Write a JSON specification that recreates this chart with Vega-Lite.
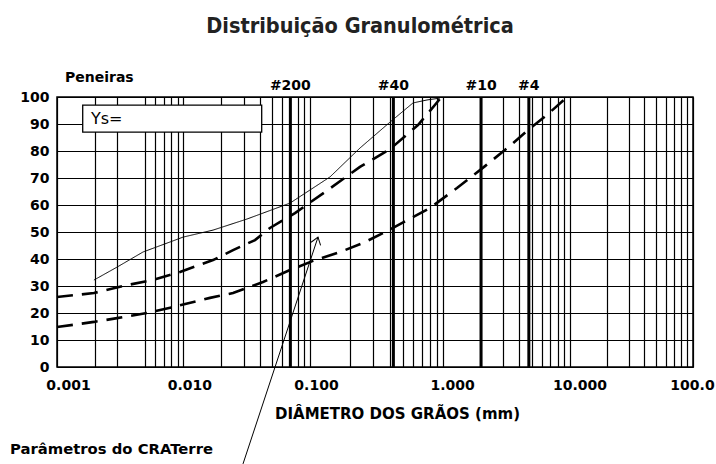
{
  "$schema": "https://vega.github.io/schema/vega-lite/v6.json",
  "width": 636,
  "height": 270,
  "autosize": "none",
  "padding": {"left": 57, "top": 97, "right": 23, "bottom": 97},
  "background": "white",
  "title": {
    "text": "Distribuição Granulométrica",
    "font": "Liberation Sans Narrow, DejaVu Sans Condensed, Roboto, sans-serif",
    "fontSize": 21.5,
    "fontWeight": "bold",
    "color": "#222222",
    "anchor": "middle",
    "frame": "group",
    "dx": -15,
    "offset": 33
  },
  "config": {
    "view": {"stroke": "black", "strokeWidth": 1.5},
    "font": "DejaVu Sans"
  },
  "datasets": {
    "curvas": [
      {"serie": "Amostra", "d": 0.00196, "p": 32.2},
      {"serie": "Amostra", "d": 0.00299, "p": 37.0},
      {"serie": "Amostra", "d": 0.0048, "p": 42.6},
      {"serie": "Amostra", "d": 0.00785, "p": 46.3},
      {"serie": "Amostra", "d": 0.00995, "p": 48.1},
      {"serie": "Amostra", "d": 0.01716, "p": 50.7},
      {"serie": "Amostra", "d": 0.0318, "p": 54.8},
      {"serie": "Amostra", "d": 0.0695, "p": 60.7},
      {"serie": "Amostra", "d": 0.1415, "p": 70.4},
      {"serie": "Amostra", "d": 0.238, "p": 81.1},
      {"serie": "Amostra", "d": 0.4008, "p": 90.7},
      {"serie": "Amostra", "d": 0.5973, "p": 97.8},
      {"serie": "Amostra", "d": 0.7615, "p": 98.9},
      {"serie": "Amostra", "d": 0.954, "p": 99.6},
      {"serie": "Limite superior", "d": 0.001, "p": 25.9},
      {"serie": "Limite superior", "d": 0.00196, "p": 27.4},
      {"serie": "Limite superior", "d": 0.00365, "p": 30.4},
      {"serie": "Limite superior", "d": 0.00575, "p": 32.2},
      {"serie": "Limite superior", "d": 0.00942, "p": 35.2},
      {"serie": "Limite superior", "d": 0.01716, "p": 39.6},
      {"serie": "Limite superior", "d": 0.0247, "p": 43.3},
      {"serie": "Limite superior", "d": 0.0368, "p": 47.0},
      {"serie": "Limite superior", "d": 0.0483, "p": 51.5},
      {"serie": "Limite superior", "d": 0.0761, "p": 57.0},
      {"serie": "Limite superior", "d": 0.1297, "p": 64.8},
      {"serie": "Limite superior", "d": 0.238, "p": 74.1},
      {"serie": "Limite superior", "d": 0.4008, "p": 80.7},
      {"serie": "Limite superior", "d": 0.6515, "p": 89.6},
      {"serie": "Limite superior", "d": 0.954, "p": 99.3},
      {"serie": "Limite inferior", "d": 0.001, "p": 14.8},
      {"serie": "Limite inferior", "d": 0.00196, "p": 16.7},
      {"serie": "Limite inferior", "d": 0.00299, "p": 18.1},
      {"serie": "Limite inferior", "d": 0.00516, "p": 20.0},
      {"serie": "Limite inferior", "d": 0.00829, "p": 22.2},
      {"serie": "Limite inferior", "d": 0.01624, "p": 25.6},
      {"serie": "Limite inferior", "d": 0.0247, "p": 27.4},
      {"serie": "Limite inferior", "d": 0.04256, "p": 31.5},
      {"serie": "Limite inferior", "d": 0.0695, "p": 35.9},
      {"serie": "Limite inferior", "d": 0.1053, "p": 39.3},
      {"serie": "Limite inferior", "d": 0.1683, "p": 42.6},
      {"serie": "Limite inferior", "d": 0.2508, "p": 45.9},
      {"serie": "Limite inferior", "d": 0.4222, "p": 51.5},
      {"serie": "Limite inferior", "d": 0.8024, "p": 58.9},
      {"serie": "Limite inferior", "d": 1.295, "p": 66.3},
      {"serie": "Limite inferior", "d": 2.149, "p": 74.4},
      {"serie": "Limite inferior", "d": 3.379, "p": 81.9},
      {"serie": "Limite inferior", "d": 4.679, "p": 87.8},
      {"serie": "Limite inferior", "d": 6.719, "p": 93.7},
      {"serie": "Limite inferior", "d": 9.135, "p": 99.3}
    ],
    "peneiras": [
      {"peneira": "#200", "abertura": 0.07},
      {"peneira": "#40", "abertura": 0.425},
      {"peneira": "#10", "abertura": 2.0},
      {"peneira": "#4", "abertura": 4.75}
    ]
  },
  "layer": [
    {
      "data": {"name": "curvas"},
      "mark": {"type": "line", "color": "black"},
      "encoding": {
        "x": {
          "field": "d",
          "type": "quantitative",
          "scale": {"type": "log", "domain": [0.001, 0.01, 0.1, 1, 10, 100], "range": [0, 126.3, 253, 385.7, 513, 636], "nice": false},
          "axis": {
            "values": [0.001, 0.002, 0.003, 0.005, 0.006, 0.007, 0.008, 0.009, 0.01, 0.02, 0.03, 0.04, 0.05, 0.06, 0.07, 0.08, 0.09, 0.1, 0.2, 0.3, 0.4, 0.5, 0.6, 0.7, 0.8, 0.9, 1, 2, 3, 4, 5, 6, 7, 8, 9, 10, 20, 30, 40, 50, 60, 70, 80, 90, 100],
            "tickCount": 60,
            "grid": true, "gridColor": "black", "gridOpacity": 1, "gridWidth": 1.2,
            "ticks": false, "domain": false,
            "labelExpr": "indexof([0.001, 0.01, 0.1, 1, 10, 100], datum.value) >= 0 ? (datum.value == 100 ? '100.0' : format(datum.value, '.3f')) : ''",
            "labelFont": "DejaVu Sans", "labelFontWeight": "bold", "labelFontSize": 14, "labelColor": "black",
            "labelPadding": 11, "labelOverlap": false, "labelFlush": false, "labelBound": false,
            "labelOffset": {"condition": [{"test": "datum.value == 100", "value": -1}, {"test": "datum.value >= 1", "value": 9.5}, {"test": "datum.value < 0.002", "value": 11}], "value": 6},
            "title": "DIÂMETRO DOS GRÃOS (mm)",
            "titleFont": "DejaVu Sans", "titleFontSize": 15, "titleFontWeight": "bold", "titleColor": "black",
            "titleX": 340, "titleY": 46, "titleAlign": "center", "titleBaseline": "middle"
          }
        },
        "y": {
          "field": "p",
          "type": "quantitative",
          "scale": {"domain": [0, 100], "nice": false, "zero": false},
          "axis": {
            "values": [0, 10, 20, 30, 40, 50, 60, 70, 80, 90, 100], "tickCount": 20,
            "grid": true, "gridColor": "black", "gridOpacity": 1, "gridWidth": 1.2,
            "ticks": false, "domain": false,
            "labelFont": "DejaVu Sans", "labelFontWeight": "bold", "labelFontSize": 14, "labelColor": "black",
            "labelPadding": 8, "labelOverlap": false, "title": null
          }
        },
        "strokeDash": {
          "field": "serie", "type": "nominal",
          "scale": {"domain": ["Amostra", "Limite superior", "Limite inferior"], "range": [[1, 0], [16, 9], [16, 9]]},
          "legend": null
        },
        "strokeWidth": {
          "field": "serie", "type": "nominal",
          "scale": {"type": "ordinal", "domain": ["Amostra", "Limite superior", "Limite inferior"], "range": [1, 2.6, 2.6]},
          "legend": null
        }
      }
    },
    {
      "data": {"name": "peneiras"},
      "mark": {"type": "rule", "color": "black", "strokeWidth": 3},
      "encoding": {
        "x": {
          "field": "abertura", "type": "quantitative",
          "axis": {
            "values": [0.001, 0.002, 0.003, 0.005, 0.006, 0.007, 0.008, 0.009, 0.01, 0.02, 0.03, 0.04, 0.05, 0.06, 0.07, 0.08, 0.09, 0.1, 0.2, 0.3, 0.4, 0.5, 0.6, 0.7, 0.8, 0.9, 1, 2, 3, 4, 5, 6, 7, 8, 9, 10, 20, 30, 40, 50, 60, 70, 80, 90, 100],
            "tickCount": 60,
            "grid": true, "gridColor": "black", "gridOpacity": 1, "gridWidth": 1.2,
            "ticks": false, "domain": false,
            "labelExpr": "indexof([0.001, 0.01, 0.1, 1, 10, 100], datum.value) >= 0 ? (datum.value == 100 ? '100.0' : format(datum.value, '.3f')) : ''",
            "labelFont": "DejaVu Sans", "labelFontWeight": "bold", "labelFontSize": 14, "labelColor": "black",
            "labelPadding": 11, "labelOverlap": false, "labelFlush": false, "labelBound": false,
            "labelOffset": {"condition": [{"test": "datum.value == 100", "value": -1}, {"test": "datum.value >= 1", "value": 9.5}, {"test": "datum.value < 0.002", "value": 11}], "value": 6},
            "title": "DIÂMETRO DOS GRÃOS (mm)",
            "titleFont": "DejaVu Sans", "titleFontSize": 15, "titleFontWeight": "bold", "titleColor": "black",
            "titleX": 340, "titleY": 46, "titleAlign": "center", "titleBaseline": "middle"
          }
        }
      }
    },
    {
      "data": {"name": "peneiras"},
      "mark": {"type": "text", "font": "DejaVu Sans", "fontWeight": "bold", "fontSize": 14, "color": "black", "align": "center", "baseline": "middle"},
      "encoding": {
        "x": {
          "field": "abertura", "type": "quantitative",
          "axis": {
            "values": [0.001, 0.002, 0.003, 0.005, 0.006, 0.007, 0.008, 0.009, 0.01, 0.02, 0.03, 0.04, 0.05, 0.06, 0.07, 0.08, 0.09, 0.1, 0.2, 0.3, 0.4, 0.5, 0.6, 0.7, 0.8, 0.9, 1, 2, 3, 4, 5, 6, 7, 8, 9, 10, 20, 30, 40, 50, 60, 70, 80, 90, 100],
            "tickCount": 60,
            "grid": true, "gridColor": "black", "gridOpacity": 1, "gridWidth": 1.2,
            "ticks": false, "domain": false,
            "labelExpr": "indexof([0.001, 0.01, 0.1, 1, 10, 100], datum.value) >= 0 ? (datum.value == 100 ? '100.0' : format(datum.value, '.3f')) : ''",
            "labelFont": "DejaVu Sans", "labelFontWeight": "bold", "labelFontSize": 14, "labelColor": "black",
            "labelPadding": 11, "labelOverlap": false, "labelFlush": false, "labelBound": false,
            "labelOffset": {"condition": [{"test": "datum.value == 100", "value": -1}, {"test": "datum.value >= 1", "value": 9.5}, {"test": "datum.value < 0.002", "value": 11}], "value": 6},
            "title": "DIÂMETRO DOS GRÃOS (mm)",
            "titleFont": "DejaVu Sans", "titleFontSize": 15, "titleFontWeight": "bold", "titleColor": "black",
            "titleX": 340, "titleY": 46, "titleAlign": "center", "titleBaseline": "middle"
          }
        },
        "y": {
          "datum": 103.9, "type": "quantitative",
          "axis": {
            "values": [0, 10, 20, 30, 40, 50, 60, 70, 80, 90, 100], "tickCount": 20,
            "grid": true, "gridColor": "black", "gridOpacity": 1, "gridWidth": 1.2,
            "ticks": false, "domain": false,
            "labelFont": "DejaVu Sans", "labelFontWeight": "bold", "labelFontSize": 14, "labelColor": "black",
            "labelPadding": 8, "labelOverlap": false, "title": null
          }
        },
        "text": {"field": "peneira"}
      }
    },
    {
      "data": {"values": [{}]},
      "mark": {"type": "rect", "fill": "white", "stroke": "black", "strokeWidth": 1.3},
      "encoding": {
        "x": {
          "datum": 0.001598, "type": "quantitative",
          "axis": {
            "values": [0.001, 0.002, 0.003, 0.005, 0.006, 0.007, 0.008, 0.009, 0.01, 0.02, 0.03, 0.04, 0.05, 0.06, 0.07, 0.08, 0.09, 0.1, 0.2, 0.3, 0.4, 0.5, 0.6, 0.7, 0.8, 0.9, 1, 2, 3, 4, 5, 6, 7, 8, 9, 10, 20, 30, 40, 50, 60, 70, 80, 90, 100],
            "tickCount": 60,
            "grid": true, "gridColor": "black", "gridOpacity": 1, "gridWidth": 1.2,
            "ticks": false, "domain": false,
            "labelExpr": "indexof([0.001, 0.01, 0.1, 1, 10, 100], datum.value) >= 0 ? (datum.value == 100 ? '100.0' : format(datum.value, '.3f')) : ''",
            "labelFont": "DejaVu Sans", "labelFontWeight": "bold", "labelFontSize": 14, "labelColor": "black",
            "labelPadding": 11, "labelOverlap": false, "labelFlush": false, "labelBound": false,
            "labelOffset": {"condition": [{"test": "datum.value == 100", "value": -1}, {"test": "datum.value >= 1", "value": 9.5}, {"test": "datum.value < 0.002", "value": 11}], "value": 6},
            "title": "DIÂMETRO DOS GRÃOS (mm)",
            "titleFont": "DejaVu Sans", "titleFontSize": 15, "titleFontWeight": "bold", "titleColor": "black",
            "titleX": 340, "titleY": 46, "titleAlign": "center", "titleBaseline": "middle"
          }
        },
        "x2": {"datum": 0.04157},
        "y": {
          "datum": 97.0, "type": "quantitative",
          "axis": {
            "values": [0, 10, 20, 30, 40, 50, 60, 70, 80, 90, 100], "tickCount": 20,
            "grid": true, "gridColor": "black", "gridOpacity": 1, "gridWidth": 1.2,
            "ticks": false, "domain": false,
            "labelFont": "DejaVu Sans", "labelFontWeight": "bold", "labelFontSize": 14, "labelColor": "black",
            "labelPadding": 8, "labelOverlap": false, "title": null
          }
        },
        "y2": {"datum": 87.0}
      }
    },
    {
      "data": {"values": [{}]},
      "mark": {"type": "text", "text": "Ys=", "font": "DejaVu Sans", "fontSize": 16, "color": "black", "align": "left", "baseline": "middle"},
      "encoding": {
        "x": {
          "datum": 0.001859, "type": "quantitative",
          "axis": {
            "values": [0.001, 0.002, 0.003, 0.005, 0.006, 0.007, 0.008, 0.009, 0.01, 0.02, 0.03, 0.04, 0.05, 0.06, 0.07, 0.08, 0.09, 0.1, 0.2, 0.3, 0.4, 0.5, 0.6, 0.7, 0.8, 0.9, 1, 2, 3, 4, 5, 6, 7, 8, 9, 10, 20, 30, 40, 50, 60, 70, 80, 90, 100],
            "tickCount": 60,
            "grid": true, "gridColor": "black", "gridOpacity": 1, "gridWidth": 1.2,
            "ticks": false, "domain": false,
            "labelExpr": "indexof([0.001, 0.01, 0.1, 1, 10, 100], datum.value) >= 0 ? (datum.value == 100 ? '100.0' : format(datum.value, '.3f')) : ''",
            "labelFont": "DejaVu Sans", "labelFontWeight": "bold", "labelFontSize": 14, "labelColor": "black",
            "labelPadding": 11, "labelOverlap": false, "labelFlush": false, "labelBound": false,
            "labelOffset": {"condition": [{"test": "datum.value == 100", "value": -1}, {"test": "datum.value >= 1", "value": 9.5}, {"test": "datum.value < 0.002", "value": 11}], "value": 6},
            "title": "DIÂMETRO DOS GRÃOS (mm)",
            "titleFont": "DejaVu Sans", "titleFontSize": 15, "titleFontWeight": "bold", "titleColor": "black",
            "titleX": 340, "titleY": 46, "titleAlign": "center", "titleBaseline": "middle"
          }
        },
        "y": {
          "datum": 91.9, "type": "quantitative",
          "axis": {
            "values": [0, 10, 20, 30, 40, 50, 60, 70, 80, 90, 100], "tickCount": 20,
            "grid": true, "gridColor": "black", "gridOpacity": 1, "gridWidth": 1.2,
            "ticks": false, "domain": false,
            "labelFont": "DejaVu Sans", "labelFontWeight": "bold", "labelFontSize": 14, "labelColor": "black",
            "labelPadding": 8, "labelOverlap": false, "title": null
          }
        }
      }
    },
    {
      "data": {"values": [{}]},
      "mark": {"type": "text", "text": "Peneiras", "font": "DejaVu Sans", "fontWeight": "bold", "fontSize": 14, "color": "black", "align": "left", "baseline": "middle"},
      "encoding": {
        "x": {
          "datum": 0.001157, "type": "quantitative",
          "axis": {
            "values": [0.001, 0.002, 0.003, 0.005, 0.006, 0.007, 0.008, 0.009, 0.01, 0.02, 0.03, 0.04, 0.05, 0.06, 0.07, 0.08, 0.09, 0.1, 0.2, 0.3, 0.4, 0.5, 0.6, 0.7, 0.8, 0.9, 1, 2, 3, 4, 5, 6, 7, 8, 9, 10, 20, 30, 40, 50, 60, 70, 80, 90, 100],
            "tickCount": 60,
            "grid": true, "gridColor": "black", "gridOpacity": 1, "gridWidth": 1.2,
            "ticks": false, "domain": false,
            "labelExpr": "indexof([0.001, 0.01, 0.1, 1, 10, 100], datum.value) >= 0 ? (datum.value == 100 ? '100.0' : format(datum.value, '.3f')) : ''",
            "labelFont": "DejaVu Sans", "labelFontWeight": "bold", "labelFontSize": 14, "labelColor": "black",
            "labelPadding": 11, "labelOverlap": false, "labelFlush": false, "labelBound": false,
            "labelOffset": {"condition": [{"test": "datum.value == 100", "value": -1}, {"test": "datum.value >= 1", "value": 9.5}, {"test": "datum.value < 0.002", "value": 11}], "value": 6},
            "title": "DIÂMETRO DOS GRÃOS (mm)",
            "titleFont": "DejaVu Sans", "titleFontSize": 15, "titleFontWeight": "bold", "titleColor": "black",
            "titleX": 340, "titleY": 46, "titleAlign": "center", "titleBaseline": "middle"
          }
        },
        "y": {
          "datum": 107.2, "type": "quantitative",
          "axis": {
            "values": [0, 10, 20, 30, 40, 50, 60, 70, 80, 90, 100], "tickCount": 20,
            "grid": true, "gridColor": "black", "gridOpacity": 1, "gridWidth": 1.2,
            "ticks": false, "domain": false,
            "labelFont": "DejaVu Sans", "labelFontWeight": "bold", "labelFontSize": 14, "labelColor": "black",
            "labelPadding": 8, "labelOverlap": false, "title": null
          }
        }
      }
    },
    {
      "data": {"values": [{}]},
      "mark": {"type": "text", "text": "Parâmetros do CRATerre", "font": "DejaVu Sans", "fontWeight": "bold", "fontSize": 14.8, "color": "black", "align": "left", "baseline": "middle"},
      "encoding": {
        "x": {
          "datum": 0.000425, "type": "quantitative",
          "axis": {
            "values": [0.001, 0.002, 0.003, 0.005, 0.006, 0.007, 0.008, 0.009, 0.01, 0.02, 0.03, 0.04, 0.05, 0.06, 0.07, 0.08, 0.09, 0.1, 0.2, 0.3, 0.4, 0.5, 0.6, 0.7, 0.8, 0.9, 1, 2, 3, 4, 5, 6, 7, 8, 9, 10, 20, 30, 40, 50, 60, 70, 80, 90, 100],
            "tickCount": 60,
            "grid": true, "gridColor": "black", "gridOpacity": 1, "gridWidth": 1.2,
            "ticks": false, "domain": false,
            "labelExpr": "indexof([0.001, 0.01, 0.1, 1, 10, 100], datum.value) >= 0 ? (datum.value == 100 ? '100.0' : format(datum.value, '.3f')) : ''",
            "labelFont": "DejaVu Sans", "labelFontWeight": "bold", "labelFontSize": 14, "labelColor": "black",
            "labelPadding": 11, "labelOverlap": false, "labelFlush": false, "labelBound": false,
            "labelOffset": {"condition": [{"test": "datum.value == 100", "value": -1}, {"test": "datum.value >= 1", "value": 9.5}, {"test": "datum.value < 0.002", "value": 11}], "value": 6},
            "title": "DIÂMETRO DOS GRÃOS (mm)",
            "titleFont": "DejaVu Sans", "titleFontSize": 15, "titleFontWeight": "bold", "titleColor": "black",
            "titleX": 340, "titleY": 46, "titleAlign": "center", "titleBaseline": "middle"
          }
        },
        "y": {
          "datum": -30.7, "type": "quantitative",
          "axis": {
            "values": [0, 10, 20, 30, 40, 50, 60, 70, 80, 90, 100], "tickCount": 20,
            "grid": true, "gridColor": "black", "gridOpacity": 1, "gridWidth": 1.2,
            "ticks": false, "domain": false,
            "labelFont": "DejaVu Sans", "labelFontWeight": "bold", "labelFontSize": 14, "labelColor": "black",
            "labelPadding": 8, "labelOverlap": false, "title": null
          }
        }
      }
    },
    {
      "data": {"values": [{}]},
      "mark": {"type": "rule", "color": "black", "strokeWidth": 1},
      "encoding": {
        "x": {
          "datum": 0.02959, "type": "quantitative",
          "axis": {
            "values": [0.001, 0.002, 0.003, 0.005, 0.006, 0.007, 0.008, 0.009, 0.01, 0.02, 0.03, 0.04, 0.05, 0.06, 0.07, 0.08, 0.09, 0.1, 0.2, 0.3, 0.4, 0.5, 0.6, 0.7, 0.8, 0.9, 1, 2, 3, 4, 5, 6, 7, 8, 9, 10, 20, 30, 40, 50, 60, 70, 80, 90, 100],
            "tickCount": 60,
            "grid": true, "gridColor": "black", "gridOpacity": 1, "gridWidth": 1.2,
            "ticks": false, "domain": false,
            "labelExpr": "indexof([0.001, 0.01, 0.1, 1, 10, 100], datum.value) >= 0 ? (datum.value == 100 ? '100.0' : format(datum.value, '.3f')) : ''",
            "labelFont": "DejaVu Sans", "labelFontWeight": "bold", "labelFontSize": 14, "labelColor": "black",
            "labelPadding": 11, "labelOverlap": false, "labelFlush": false, "labelBound": false,
            "labelOffset": {"condition": [{"test": "datum.value == 100", "value": -1}, {"test": "datum.value >= 1", "value": 9.5}, {"test": "datum.value < 0.002", "value": 11}], "value": 6},
            "title": "DIÂMETRO DOS GRÃOS (mm)",
            "titleFont": "DejaVu Sans", "titleFontSize": 15, "titleFontWeight": "bold", "titleColor": "black",
            "titleX": 340, "titleY": 46, "titleAlign": "center", "titleBaseline": "middle"
          }
        },
        "x2": {"datum": 0.1149},
        "y": {
          "datum": -35.9, "type": "quantitative",
          "axis": {
            "values": [0, 10, 20, 30, 40, 50, 60, 70, 80, 90, 100], "tickCount": 20,
            "grid": true, "gridColor": "black", "gridOpacity": 1, "gridWidth": 1.2,
            "ticks": false, "domain": false,
            "labelFont": "DejaVu Sans", "labelFontWeight": "bold", "labelFontSize": 14, "labelColor": "black",
            "labelPadding": 8, "labelOverlap": false, "title": null
          }
        },
        "y2": {"datum": 48.1}
      }
    },
    {
      "data": {"values": [{}]},
      "mark": {"type": "point", "shape": "M-0.5,0.7L0,0L0.5,0.7", "size": 400, "filled": false, "stroke": "black", "strokeWidth": 1, "angle": 18, "opacity": 1},
      "encoding": {
        "x": {
          "datum": 0.1149, "type": "quantitative",
          "axis": {
            "values": [0.001, 0.002, 0.003, 0.005, 0.006, 0.007, 0.008, 0.009, 0.01, 0.02, 0.03, 0.04, 0.05, 0.06, 0.07, 0.08, 0.09, 0.1, 0.2, 0.3, 0.4, 0.5, 0.6, 0.7, 0.8, 0.9, 1, 2, 3, 4, 5, 6, 7, 8, 9, 10, 20, 30, 40, 50, 60, 70, 80, 90, 100],
            "tickCount": 60,
            "grid": true, "gridColor": "black", "gridOpacity": 1, "gridWidth": 1.2,
            "ticks": false, "domain": false,
            "labelExpr": "indexof([0.001, 0.01, 0.1, 1, 10, 100], datum.value) >= 0 ? (datum.value == 100 ? '100.0' : format(datum.value, '.3f')) : ''",
            "labelFont": "DejaVu Sans", "labelFontWeight": "bold", "labelFontSize": 14, "labelColor": "black",
            "labelPadding": 11, "labelOverlap": false, "labelFlush": false, "labelBound": false,
            "labelOffset": {"condition": [{"test": "datum.value == 100", "value": -1}, {"test": "datum.value >= 1", "value": 9.5}, {"test": "datum.value < 0.002", "value": 11}], "value": 6},
            "title": "DIÂMETRO DOS GRÃOS (mm)",
            "titleFont": "DejaVu Sans", "titleFontSize": 15, "titleFontWeight": "bold", "titleColor": "black",
            "titleX": 340, "titleY": 46, "titleAlign": "center", "titleBaseline": "middle"
          }
        },
        "y": {
          "datum": 48.1, "type": "quantitative",
          "axis": {
            "values": [0, 10, 20, 30, 40, 50, 60, 70, 80, 90, 100], "tickCount": 20,
            "grid": true, "gridColor": "black", "gridOpacity": 1, "gridWidth": 1.2,
            "ticks": false, "domain": false,
            "labelFont": "DejaVu Sans", "labelFontWeight": "bold", "labelFontSize": 14, "labelColor": "black",
            "labelPadding": 8, "labelOverlap": false, "title": null
          }
        }
      }
    }
  ]
}
